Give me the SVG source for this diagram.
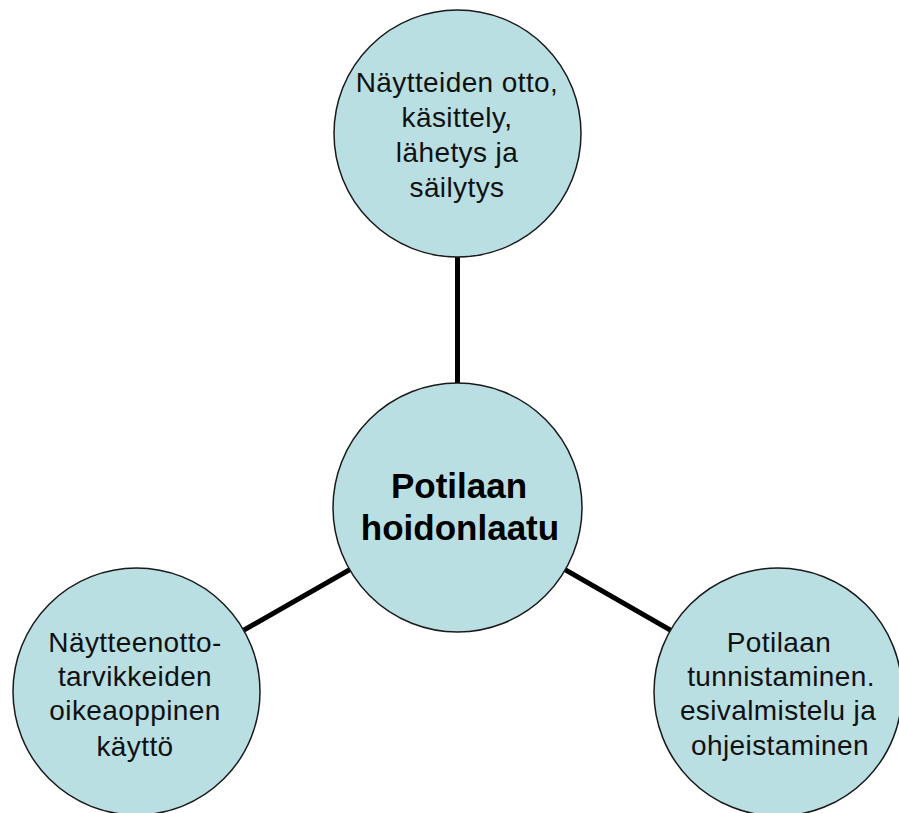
<svg xmlns="http://www.w3.org/2000/svg" width="899" height="813" viewBox="0 0 899 813">
  <style>
    .node { fill: #b9dfe3; stroke: #1a1a1a; stroke-width: 1.5; }
    .conn { stroke: #000; stroke-width: 5; fill: none; }
    .lbl { font-family: "Liberation Sans", Arial, sans-serif; font-size: 28px; fill: #111; text-anchor: middle; letter-spacing: 0.4px; }
    .main { font-family: "Liberation Sans", Arial, sans-serif; font-size: 35px; font-weight: bold; fill: #000; text-anchor: middle; }
  </style>
  <rect width="899" height="813" fill="#ffffff"/>
  <g id="connectors">
    <line class="conn" x1="457.5" y1="133" x2="457.5" y2="508"/>
    <line class="conn" x1="457.5" y1="508" x2="136.5" y2="691.5"/>
    <line class="conn" x1="457.5" y1="508" x2="778" y2="692"/>
  </g>
  <g id="node-top">
    <circle class="node" cx="457.5" cy="133.5" r="123.5"/>
    <text class="lbl" x="457" y="92">Näytteiden otto,</text>
    <text class="lbl" x="457" y="127">käsittely,</text>
    <text class="lbl" x="457" y="162">lähetys ja</text>
    <text class="lbl" x="457" y="197">säilytys</text>
  </g>
  <g id="node-center">
    <circle class="node" cx="457.5" cy="507.5" r="124.5"/>
    <text class="main" x="459" y="498">Potilaan</text>
    <text class="main" x="460" y="540">hoidonlaatu</text>
  </g>
  <g id="node-left">
    <circle class="node" cx="136.5" cy="691.5" r="123.5"/>
    <text class="lbl" x="135" y="652">Näytteenotto-</text>
    <text class="lbl" x="135" y="686">tarvikkeiden</text>
    <text class="lbl" x="135" y="720">oikeaoppinen</text>
    <text class="lbl" x="135" y="756">käyttö</text>
  </g>
  <g id="node-right">
    <circle class="node" cx="778" cy="692" r="124"/>
    <text class="lbl" x="779" y="652">Potilaan</text>
    <text class="lbl" x="781" y="686">tunnistaminen.</text>
    <text class="lbl" x="778" y="720">esivalmistelu ja</text>
    <text class="lbl" x="780" y="755">ohjeistaminen</text>
  </g>
</svg>
